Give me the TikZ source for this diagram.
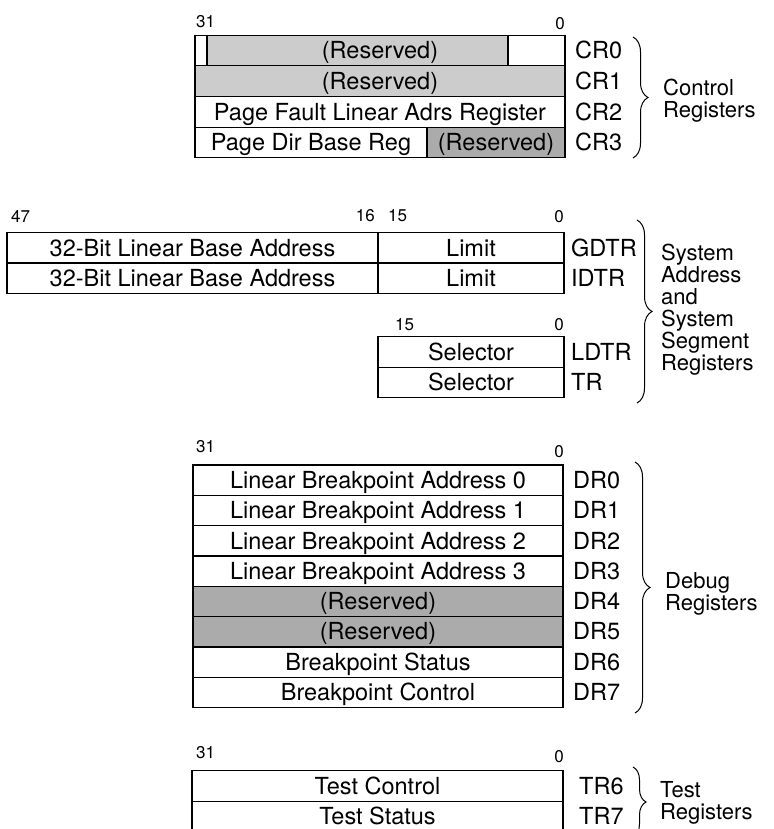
\documentclass[tikz,border=0pt]{standalone}
\usepackage{fontspec}
\setmainfont{TeX Gyre Heros}
\usetikzlibrary{decorations.pathreplacing}

\tikzset{
    reg/.style = {draw, line width=1.1pt, inner sep=0pt, minimum height=30.5pt,
        text height=16.5pt, text depth=0pt, font=\fontsize{23.5}{25}\selectfont},
    resv/.style = {reg, fill=black!20},
    resvd/.style = {reg, fill=black!33},
    rname/.style = {anchor=west, inner sep=0pt, text height=16.5pt, text depth=0pt,
        font=\fontsize{23.5}{25}\selectfont},
    bitno/.style = {inner sep=0pt, font=\fontsize{17}{19}\selectfont},
    grp/.style = {anchor=west, inner sep=0pt, align=left, font=\fontsize{22}{22}\selectfont},
    brc/.style = {decorate, decoration={brace, amplitude=15pt}, line width=1pt}
}

\begin{document}
\begin{tikzpicture}[x=1pt, y=-1pt]
    \useasboundingbox (0,0) rectangle (773,829);
    % control registers
    \node[bitno, anchor=west] (c31) at (196,22) {31};
    \node[bitno, anchor=east] (c0) at (565,24) {0};
    \node[resv, minimum width=301pt] (cr0r) at (357.5,50.4) {};
    \node[reg, minimum width=370pt] (cr0) at (380,50.4) {(Reserved)};
    \node[resv, minimum width=370pt] (cr1) at (380,81.1) {(Reserved)};
    \node[reg, minimum width=370pt] (cr2) at (380,111.9) {Page Fault Linear Adrs Register};
    \node[reg, minimum width=232pt] (cr3a) at (311,142.6) {Page Dir Base Reg};
    \node[resvd, minimum width=138pt] (cr3b) at (496,142.6) {(Reserved)};
    \foreach \i/\y in {0/50.4, 1/81.1, 2/111.9, 3/142.6}
        \node[rname] (crl\i) at (575,\y) {CR\i};
    \coordinate (cbt) at (633,37);
    \coordinate (cbb) at (633,158);
    \draw[brc] (cbt) -- (cbb);
    \node[grp] (ctl) at (663,101) {Control\\Registers};
    % system address and segment registers
    \node[bitno, anchor=west] (s47) at (11,216) {47};
    \node[bitno, anchor=east] (s16) at (375,216) {16};
    \node[bitno, anchor=west] (s15) at (388,216) {15};
    \node[bitno, anchor=east] (s0) at (564,217) {0};
    \node[reg, minimum width=371pt] (gbase) at (192.5,248) {32-Bit Linear Base Address};
    \node[reg, minimum width=186pt] (glim) at (471,248) {Limit};
    \node[reg, minimum width=371pt] (ibase) at (192.5,278) {32-Bit Linear Base Address};
    \node[reg, minimum width=186pt] (ilim) at (471,278) {Limit};
    \node[bitno, anchor=west] (l15) at (395,325) {15};
    \node[bitno, anchor=east] (l0) at (564,325) {0};
    \node[reg, minimum width=186pt] (ldtr) at (471,352) {Selector};
    \node[reg, minimum width=186pt] (tr) at (471,382.5) {Selector};
    \node[rname] (gdtrl) at (571,248) {GDTR};
    \node[rname] (idtrl) at (571,278) {IDTR};
    \node[rname] (ldtrl) at (571,352) {LDTR};
    \node[rname] (trl) at (571,382.5) {TR};
    \coordinate (sbt) at (637,220);
    \coordinate (sbb) at (637,403);
    \draw[brc] (sbt) -- (sbb);
    \node[grp] (sys) at (661,310) {System\\Address\\and\\System\\Segment\\Registers};
    % debug registers
    \node[bitno, anchor=west] (d31) at (196,447) {31};
    \node[bitno, anchor=east] (d0) at (564,452) {0};
    \node[reg, minimum width=370pt] (dr0) at (378,480.2) {Linear Breakpoint Address 0};
    \node[reg, minimum width=370pt] (dr1) at (378,510.5) {Linear Breakpoint Address 1};
    \node[reg, minimum width=370pt] (dr2) at (378,540.8) {Linear Breakpoint Address 2};
    \node[reg, minimum width=370pt] (dr3) at (378,571.1) {Linear Breakpoint Address 3};
    \node[resvd, minimum width=370pt] (dr4) at (378,601.4) {(Reserved)};
    \node[resvd, minimum width=370pt] (dr5) at (378,631.7) {(Reserved)};
    \node[reg, minimum width=370pt] (dr6) at (378,662) {Breakpoint Status};
    \node[reg, minimum width=370pt] (dr7) at (378,692.3) {Breakpoint Control};
    \foreach \i in {0,...,7}
        \node[rname] (drl\i) at (573,480.2+30.3*\i) {DR\i};
    \coordinate (dbt) at (635,462);
    \coordinate (dbb) at (635,713);
    \draw[brc] (dbt) -- (dbb);
    \node[grp] (dbg) at (665,594) {Debug\\Registers};
    % test registers
    \node[bitno, anchor=west] (t31) at (196,753) {31};
    \node[bitno, anchor=east] (t0) at (564,757) {0};
    \node[reg, minimum width=371pt] (tr6) at (377.5,786) {Test Control};
    \node[reg, minimum width=371pt] (tr7) at (377.5,816.5) {Test Status};
    \node[rname] (tr6l) at (579,786) {TR6};
    \node[rname] (tr7l) at (579,816.5) {TR7};
    \coordinate (tbt) at (633,767);
    \coordinate (tbb) at (633,837);
    \draw[brc, decoration={amplitude=13pt}] (tbt) -- (tbb);
    \node[grp] (tst) at (660,803) {Test\\Registers};
\end{tikzpicture}
\end{document}
